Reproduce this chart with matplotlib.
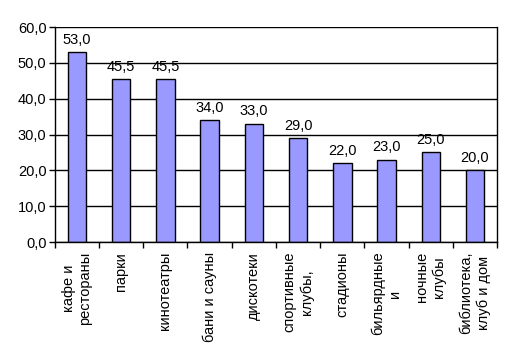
import numpy as np
from matplotlib import pyplot as plt

plt.rcParams['font.family'] = ['Liberation Sans', 'DejaVu Sans']

categories = ['кафе и\nрестораны', 'парки', 'кинотеатры', 'бани и сауны', 'дискотеки',
              'спортивные\nклубы,', 'стадионы', 'бильярдные\nи', 'ночные\nклубы',
              'библиотека,\nклуб и дом']
values = [53.0, 45.5, 45.5, 34.0, 33.0, 29.0, 22.0, 23.0, 25.0, 20.0]
yticks = [0, 10, 20, 30, 40, 50, 60]

fig = plt.figure(figsize=(5.12, 3.56), dpi=100)
ax = fig.add_axes([0.107, 0.320, 0.864, 0.604])

x = np.arange(len(categories))
ax.set_axisbelow(True)
ax.yaxis.grid(True, color='black', linewidth=1)
bars = ax.bar(x, values, width=0.42, color='#9999FF', edgecolor='black', linewidth=1)

for xi, v in zip(x, values):
    ax.text(xi, v + 1.5, f'{v:.1f}'.replace('.', ','), ha='center', va='bottom', fontsize=10.5)

ax.set_xlim(-0.5, len(categories) - 0.5)
ax.set_ylim(0, 60)
ax.set_yticks(yticks)
ax.set_yticklabels([f'{t:.1f}'.replace('.', ',') for t in yticks], fontsize=10.5)
ax.tick_params(axis='y', length=4, width=1, pad=2, color='black')

ax.set_xticks(x)
ax.set_xticklabels(categories, rotation=90, fontsize=10.5, ha='center', va='top',
                   multialignment='center', linespacing=1.25)
ax.set_xticks(np.arange(len(categories) + 1) - 0.5, minor=True)
ax.tick_params(axis='x', which='major', length=0, pad=7)
ax.tick_params(axis='x', which='minor', length=4, width=1, color='black')

ax.spines['left'].set_linewidth(1)
ax.spines['bottom'].set_linewidth(1)
ax.spines['top'].set_visible(False)
ax.spines['right'].set_visible(False)
ax.plot([1, 1], [0, 1], transform=ax.transAxes, color='black', linewidth=1, clip_on=False)

fig.savefig('out.png', dpi=100)
